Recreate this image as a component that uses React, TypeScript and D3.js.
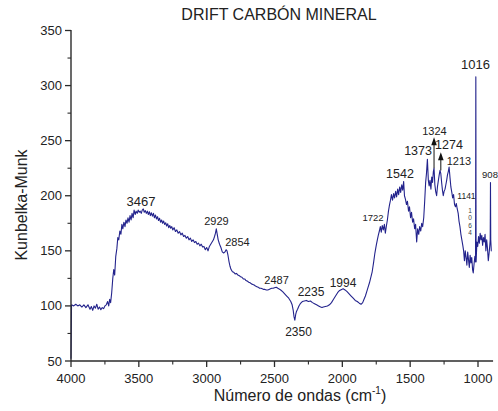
import React from "react";
import * as d3 from "d3";

const chartTitle = "DRIFT CARBÓN MINERAL";
const xAxisLabel = "Número de ondas (cm";
const yAxisLabel = "Kunbelka-Munk";

const xTickValues = [4000, 3500, 3000, 2500, 2000, 1500, 1000];
const xMinorTicks = [3750, 3250, 2750, 2250, 1750, 1250];
const yTickValues = [50, 100, 150, 200, 250, 300, 350];
const yMinorTicks = [75, 125, 175, 225, 275, 325];

const wavenumbers = [
  4000, 3996, 3980, 3965, 3950, 3935, 3920, 3905, 3890, 3875, 3860, 3850, 3840, 3830, 3820, 3810, 3800, 3790, 3780, 3770,
  3760, 3750, 3740, 3730, 3722, 3715, 3708, 3700, 3692, 3685, 3678, 3670, 3662, 3655, 3648, 3640, 3632, 3625, 3618, 3610,
  3602, 3595, 3587, 3580, 3572, 3565, 3557, 3550, 3542, 3535, 3527, 3520, 3512, 3505, 3497, 3490, 3482, 3475, 3467, 3460,
  3452, 3445, 3437, 3430, 3422, 3415, 3407, 3400, 3392, 3385, 3377, 3370, 3362, 3355, 3347, 3340, 3332, 3325, 3317, 3310,
  3302, 3295, 3287, 3280, 3272, 3265, 3257, 3250, 3240, 3230, 3220, 3210, 3200, 3190, 3180, 3170, 3160, 3150, 3140, 3130,
  3120, 3110, 3100, 3090, 3080, 3070, 3060, 3050, 3040, 3030, 3020, 3010, 3000, 2990, 2980, 2970, 2960, 2950, 2942, 2935,
  2929, 2922, 2915, 2905, 2895, 2885, 2875, 2865, 2857, 2850, 2843, 2835, 2828, 2820, 2810, 2800, 2790, 2780, 2770, 2760,
  2750, 2740, 2730, 2720, 2710, 2700, 2690, 2680, 2670, 2660, 2650, 2640, 2630, 2620, 2610, 2600, 2590, 2580, 2570, 2560,
  2550, 2540, 2530, 2520, 2510, 2500, 2487, 2475, 2460, 2450, 2440, 2425, 2410, 2395, 2380, 2370, 2362, 2356, 2350, 2344,
  2338, 2330, 2320, 2310, 2295, 2280, 2265, 2250, 2235, 2220, 2205, 2190, 2175, 2160, 2150, 2140, 2125, 2110, 2095, 2080,
  2065, 2050, 2035, 2020, 2005, 1994, 1980, 1965, 1950, 1935, 1920, 1905, 1890, 1875, 1862, 1850, 1840, 1830, 1820, 1810,
  1800, 1790, 1780, 1770, 1760, 1750, 1742, 1735, 1727, 1720, 1713, 1706, 1698, 1690, 1683, 1676, 1668, 1660, 1652, 1645,
  1638, 1630, 1622, 1615, 1607, 1600, 1592, 1585, 1577, 1570, 1562, 1555, 1548, 1542, 1535, 1527, 1520, 1512, 1505, 1497,
  1490, 1482, 1475, 1467, 1460, 1452, 1445, 1437, 1430, 1422, 1415, 1408, 1400, 1393, 1386, 1380, 1373, 1366, 1360, 1354,
  1347, 1341, 1335, 1329, 1324, 1318, 1312, 1305, 1299, 1292, 1286, 1280, 1274, 1268, 1262, 1256, 1250, 1243, 1237, 1231,
  1225, 1219, 1213, 1206, 1200, 1193, 1187, 1180, 1173, 1166, 1160, 1153, 1146, 1140, 1133, 1126, 1119, 1112, 1106, 1100,
  1094, 1088, 1082, 1076, 1070, 1064, 1058, 1052, 1046, 1040, 1035, 1029, 1023, 1018, 1016, 1014, 1008, 1002, 996, 990,
  984, 978, 972, 966, 960, 954, 948, 942, 936, 930, 924, 918, 913, 910, 908, 906, 902, 900,
];

const kmValues = [
  52, 101, 100, 101.5, 100, 101, 99, 101, 98.5, 101, 97, 99.5, 96, 100, 98, 101.5, 97, 99, 96.5, 98.5,
  97.5, 100, 101, 104, 100, 106, 103, 112, 125, 133, 128, 145, 152, 162, 160, 168, 165, 174, 170, 176,
  172, 178, 175, 180, 176, 182, 178, 184, 180, 187, 183, 186, 184, 187, 185, 186, 184, 187, 188, 185,
  186.5, 184, 186, 183, 185.5, 182, 184.5, 181.5, 184, 180, 182.5, 179, 181, 177.5, 179.5, 176, 178, 175, 177, 174,
  175.5, 172.5, 174.5, 171, 173, 170.5, 172, 169, 171, 167.5, 169, 166, 167.5, 164.5, 166, 163, 164, 161.5, 163, 160,
  161.5, 158.5, 160, 157.5, 158.5, 156, 157, 154.5, 156, 153.5, 154, 151, 153, 150, 154, 156, 158, 160, 163, 166,
  170, 165, 160, 156, 153, 149, 148, 149, 151, 150, 146, 140, 136, 133, 131, 130.5, 129, 129.5, 128, 127.5,
  126.5, 126, 124.5, 124.5, 123, 122.5, 121.5, 121, 120, 119.5, 119, 118, 117.5, 117, 116, 116, 115.5, 115, 115, 114.5,
  114.5, 115, 115.5, 116, 116, 116.5, 117, 116, 115, 114, 113, 111, 109, 107, 104, 101, 96, 90, 87, 92,
  95, 97, 100, 102, 104, 104.5, 105, 104, 104.5, 103, 102, 101, 100, 99, 98.5, 99, 99.5, 100, 101, 103,
  106, 109, 112, 114, 115, 115.5, 114.5, 113, 111, 109, 107, 105, 104, 102.5, 101.5, 103, 106, 109, 113, 117,
  121, 126, 131, 139, 148, 155, 160, 164, 168, 172, 167, 173, 169, 174, 166, 172, 178, 186, 192, 196,
  201, 196, 202, 198, 204, 199, 206, 201, 208, 203, 210, 205, 213, 200, 197, 192, 195, 186, 190, 180,
  185, 176, 179, 170, 174, 158, 170, 165, 172, 168, 175, 172, 180, 195, 212, 220, 233, 214, 209, 214,
  206, 217, 212, 222, 225, 210, 204, 200, 208, 214, 219, 223, 220, 212, 205, 200, 204, 206, 210, 214,
  219, 222, 226, 216, 208, 203, 198, 201, 192, 190, 193, 188, 184, 177, 172, 165, 160, 155, 150, 141,
  150, 144, 137, 149, 142, 135, 146, 139, 144, 133, 130, 138, 145, 140, 308, 140, 158, 154, 163, 157,
  166, 160, 164, 155, 162, 158, 165, 150, 160, 152, 141, 148, 155, 160, 212, 160, 150, 150,
];

// peak annotations: text + anchor in data coordinates (wavenumber, K-M value)
const peakLabels = [
  { text: "3467", wn: 3484, km: 190.5, size: 13, anchor: "middle" },
  { text: "2929", wn: 2928, km: 173.3, size: 11, anchor: "middle" },
  { text: "2854", wn: 2773, km: 154.2, size: 11, anchor: "middle" },
  { text: "2487", wn: 2485, km: 119.8, size: 11, anchor: "middle" },
  { text: "2235", wn: 2231, km: 108.9, size: 12, anchor: "middle" },
  { text: "1994", wn: 1995, km: 117.5, size: 12, anchor: "middle" },
  { text: "2350", wn: 2323, km: 72.7, size: 12, anchor: "middle" },
  { text: "1722", wn: 1774, km: 176.9, size: 9.5, anchor: "middle" },
  { text: "1542", wn: 1575, km: 215.9, size: 12.5, anchor: "middle" },
  { text: "1373", wn: 1442, km: 236.7, size: 12.5, anchor: "middle" },
  { text: "1324", wn: 1321, km: 254.8, size: 11, anchor: "middle" },
  { text: "1274", wn: 1214, km: 242.2, size: 12.5, anchor: "middle" },
  { text: "1213", wn: 1140, km: 227.7, size: 11, anchor: "middle" },
  { text: "1141", wn: 1085, km: 196.8, size: 8.5, anchor: "middle" },
  { text: "1016", wn: 1019, km: 314.7, size: 13, anchor: "middle" },
  { text: "908", wn: 970, km: 215.9, size: 9.5, anchor: "start" },
];

const verticalLabel = { chars: ["1", "0", "6", "4"], wn: 1059, km: [184.5, 178, 171, 164.5] };

const arrows = [
  { wn: 1324, from: 225, to: 253 },
  { wn: 1274, from: 223, to: 239.5 },
];

const W = 498;
const H = 411;

export default function App() {
  const x = d3.scaleLinear().domain([4000, 900]).range([71, 71 + 3100 * (407 / 3000)]);
  const y = d3.scaleLinear().domain([50, 350]).range([361, 30.5]);

  const data = wavenumbers.map((w, i) => [w, kmValues[i]] as [number, number]);
  const line = d3
    .line<[number, number]>()
    .x((d) => x(d[0]))
    .y((d) => y(d[1]));

  const font = "'Liberation Sans', Arial, Helvetica, sans-serif";
  const axisColor = "#2b2b2b";
  const x0 = x(4000);
  const x1 = x(900) + 1.5;
  const yBase = y(50);

  return (
    <svg
      width={W}
      height={H}
      style={{ position: "absolute", left: 0, top: 0, background: "#fff" }}
      fontFamily={font}
    >
      <rect x={0} y={0} width={W} height={H} fill="#fff" />
      <text x={279} y={20} fontSize={16} textAnchor="middle" fill="#222">
        {chartTitle}
      </text>

      {/* data line */}
      <path d={line(data) || ""} fill="none" stroke="#23238c" strokeWidth={1.1} strokeLinejoin="round" />

      {/* axes */}
      <line x1={x0} x2={x0} y1={y(350) - 0.5} y2={yBase} stroke={axisColor} strokeWidth={1.4} />
      <line x1={x0} x2={x1} y1={yBase} y2={yBase} stroke={axisColor} strokeWidth={1.4} />

      {yTickValues.map((v) => (
        <g key={"yt" + v}>
          <line x1={x0 - 6} x2={x0} y1={y(v)} y2={y(v)} stroke={axisColor} strokeWidth={1.3} />
          <text x={x0 - 9} y={y(v)} dy="0.35em" fontSize={13} textAnchor="end" fill="#222">
            {v}
          </text>
        </g>
      ))}
      {yMinorTicks.map((v) => (
        <line key={"ym" + v} x1={x0 - 3.5} x2={x0} y1={y(v)} y2={y(v)} stroke={axisColor} strokeWidth={1.1} />
      ))}
      {xTickValues.map((v) => (
        <g key={"xt" + v}>
          <line x1={x(v)} x2={x(v)} y1={yBase} y2={yBase + 6} stroke={axisColor} strokeWidth={1.3} />
          <text x={x(v)} y={383} fontSize={13} textAnchor="middle" fill="#222">
            {v}
          </text>
        </g>
      ))}
      {xMinorTicks.map((v) => (
        <line key={"xm" + v} x1={x(v)} x2={x(v)} y1={yBase} y2={yBase + 3.5} stroke={axisColor} strokeWidth={1.1} />
      ))}

      <text x={300} y={401} fontSize={16} textAnchor="middle" fill="#222">
        {xAxisLabel}
        <tspan fontSize={10} dy={-7}>-1</tspan>
        <tspan dy={7}>)</tspan>
      </text>
      <text transform={`translate(27,205) rotate(-90)`} fontSize={16} textAnchor="middle" fill="#222">
        {yAxisLabel}
      </text>

      {/* peak labels */}
      {peakLabels.map((p) => (
        <text key={p.text} x={x(p.wn)} y={y(p.km)} fontSize={p.size} textAnchor={p.anchor as any} fill="#222">
          {p.text}
        </text>
      ))}
      {verticalLabel.chars.map((c, i) => (
        <text
          key={"v" + i}
          x={x(verticalLabel.wn)}
          y={y(verticalLabel.km[i])}
          fontSize={6.5}
          textAnchor="middle"
          fill="#444"
        >
          {c}
        </text>
      ))}

      {/* arrows */}
      {arrows.map((a) => {
        const ax = x(a.wn);
        const tip = y(a.to);
        return (
          <g key={"a" + a.wn}>
            <line x1={ax} x2={ax} y1={y(a.from)} y2={tip + 5} stroke="#111" strokeWidth={1} />
            <path d={`M${ax},${tip} L${ax - 2.8},${tip + 8} L${ax + 2.8},${tip + 8} Z`} fill="#111" />
          </g>
        );
      })}
    </svg>
  );
}
